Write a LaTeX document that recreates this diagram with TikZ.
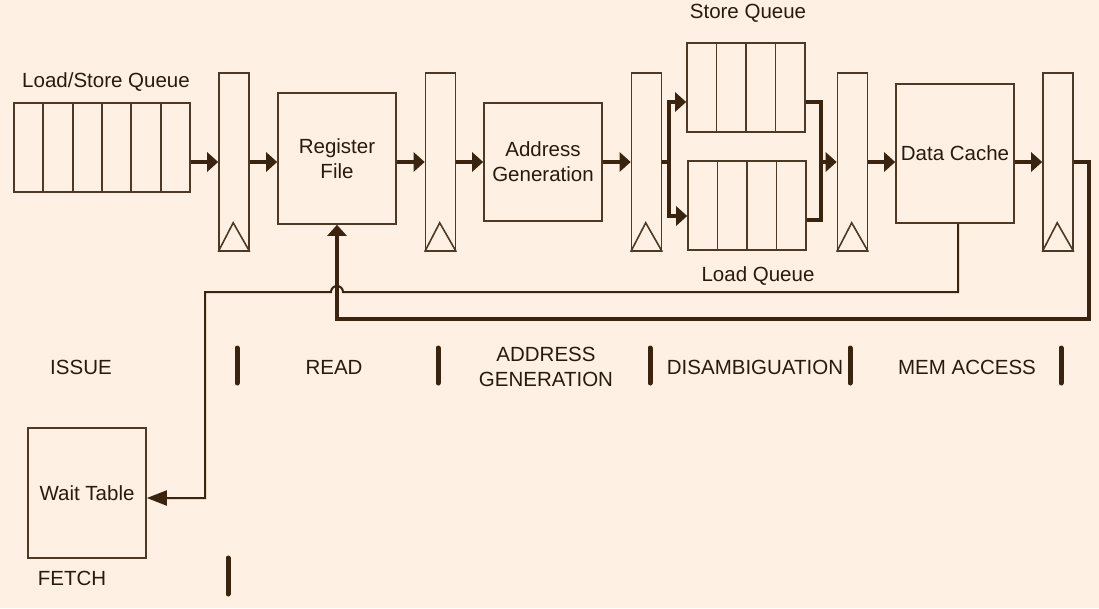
\documentclass[tikz,border=0pt]{standalone}
\usepackage{fontspec}
\setmainfont{Liberation Sans}
\usetikzlibrary{arrows.meta,positioning}
\definecolor{bgcream}{HTML}{FEF1E3}
\definecolor{brownline}{HTML}{3A2410}
\definecolor{boxedge}{HTML}{4E3826}
\definecolor{ink}{HTML}{2A1A0C}

\begin{document}
\begin{tikzpicture}[x=1pt,y=-1pt,
	every node/.style={font=\fontsize{20.5}{25}\selectfont, text=ink, align=center},
	block/.style={draw=boxedge, line width=1.6pt, inner sep=0pt},
	latch/.style={block, minimum width=30pt, minimum height=178pt},
	cell/.style={block, minimum width=29.5pt, minimum height=89pt},
	trunk/.style={draw=brownline, line width=4pt},
	bus/.style={trunk, -{Triangle[length=11pt,width=19pt]}},
	wire/.style={draw=brownline, line width=2pt},
	sep/.style={draw=brownline, line width=5pt, line cap=round}]
	\fill[bgcream] (0,0) rectangle (1099,608);
	\useasboundingbox (0,0) rectangle (1099,608);
	% queues
	\foreach \k in {1,...,6}
	    \node[cell] (lsq\k) at ({14+29.33*(\k-0.5)},147.5) {};
	\foreach \k in {1,...,4} {
	    \node[cell] (sq\k) at ({687+29.5*(\k-0.5)},87.5) {};
	    \node[cell] (lq\k) at ({688+29.5*(\k-0.5)},205.5) {};
	}
	\node (lsqlabel) at (106,82) {Load/Store Queue};
	\node (sqlabel) at (748,13) {Store Queue};
	\node (lqlabel) at (758,276) {Load Queue};
	% pipeline latches
	\foreach \n/\x in {1/234,2/440.5,3/646.5,4/852.5,5/1058} {
	    \node[latch] (latch\n) at (\x,162) {};
	    \draw[draw=boxedge, line width=1.6pt] (latch\n.south west) -- ++(15,-29) -- (latch\n.south east);
	}
	% blocks
	\node[block, minimum width=118pt, minimum height=131pt] (regfile) at (337,158.5) {Register\\File};
	\node[block, minimum width=118pt, minimum height=118pt] (addrgen) at (543,162) {Address\\Generation};
	\node[block, minimum width=118pt, minimum height=139pt] (dcache) at (955,153.5) {Data Cache};
	\node[block, minimum width=118pt, minimum height=130pt] (waittable) at (87,493) {Wait Table};
	% stages
	\node (issue) at (81,367) {ISSUE};
	\node (read) at (334,367) {READ};
	\node (agen) at (546,367) {ADDRESS\\GENERATION};
	\node (disamb) at (755,367) {DISAMBIGUATION};
	\node (memacc) at (967,367) {MEM ACCESS};
	\node (fetch) at (72,578) {FETCH};
	\foreach \x in {237,438,650,850,1061}
	    \draw[sep] (\x,348) -- (\x,383);
	\draw[sep] (228,558) -- (228,594);
	% data path
	\draw[bus] (lsq6.east |- latch1.west) -- (latch1.west);
	\draw[bus] (latch1.east) -- (latch1.east -| regfile.west);
	\draw[bus] (regfile.east |- latch2.west) -- (latch2.west);
	\draw[bus] (latch2.east) -- (latch2.east -| addrgen.west);
	\draw[bus] (addrgen.east) -- (latch3.west);
	\coordinate[right=7pt of latch3.east] (split);
	\draw[bus] (latch3.east) -- (split) |- ([yshift=-14.5pt]sq1.west);
	\draw[bus] (split) |- ([yshift=-10.5pt]lq1.west);
	\coordinate[left=16pt of latch4.west] (merge);
	\draw[trunk] ([yshift=-14.5pt]sq4.east) -| (merge);
	\draw[trunk] ([yshift=-14.5pt]lq4.east) -| (merge);
	\draw[bus] (merge) -- (latch4.west);
	\draw[bus] (latch4.east) -- (latch4.east -| dcache.west);
	\draw[bus] (dcache.east |- latch5.west) -- (latch5.west);
	% feedback
	\draw[bus] (latch5.east) -- ++(15,0) -- ++(0,157) -| (regfile.south);
	\coordinate (wtcorner) at (205,292);
	\draw[wire, -{Triangle[length=20pt,width=15pt]}] ([xshift=3pt]dcache.south) |- ([xshift=6pt]regfile.south |- wtcorner)
	    arc[start angle=0, end angle=180, radius=6pt] -- (wtcorner) |- ([yshift=-5pt]waittable.east);
\end{tikzpicture}
\end{document}
